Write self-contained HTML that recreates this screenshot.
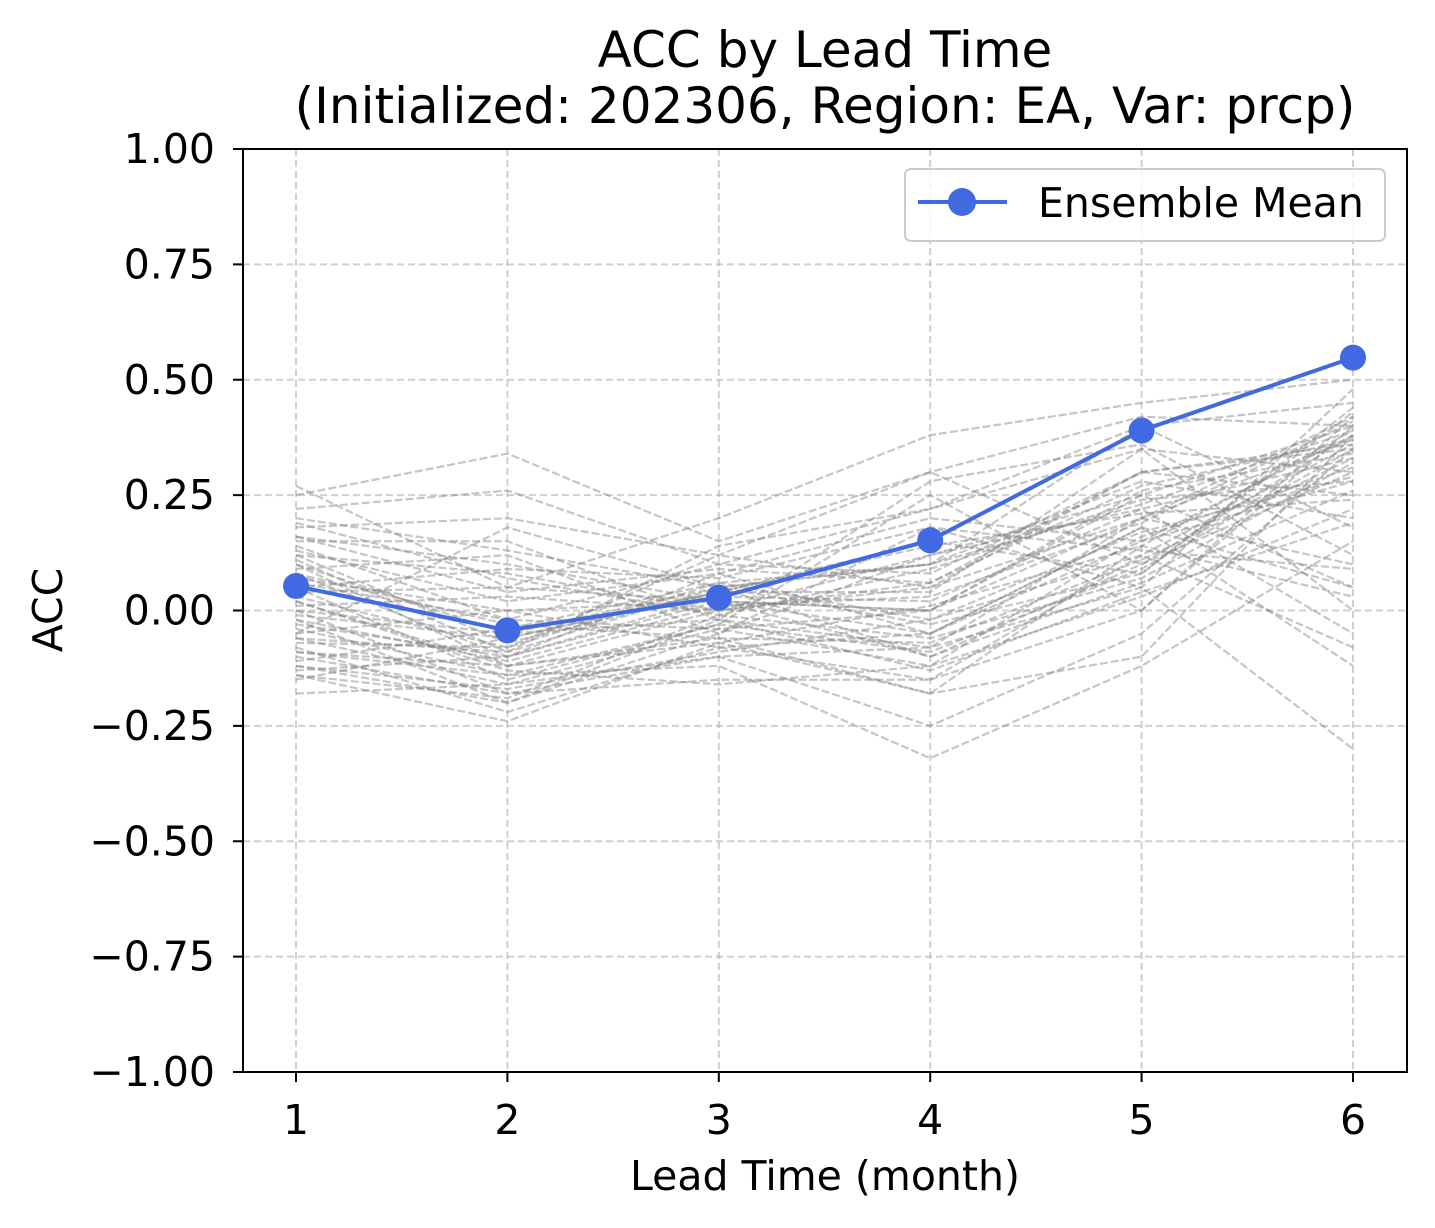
<!DOCTYPE html>
<html><head><meta charset="utf-8"><style>
html,body{margin:0;padding:0;background:#fff}
svg{display:block;font-family:"DejaVu Sans","Liberation Sans",sans-serif}
</style></head><body>
<svg id="chart" width="1435" height="1228" viewBox="0 0 1435 1228">
<text x="825" y="67" font-size="50" text-anchor="middle">ACC by Lead Time</text>
<text x="825" y="123" font-size="50" text-anchor="middle">(Initialized: 202306, Region: EA, Var: prcp)</text>
<g id="grid"></g>
<g id="members"></g>
<g id="mean"></g>
<rect x="243" y="149" width="1164" height="923" fill="none" stroke="#000" stroke-width="2"/>
<g id="ticks"></g>
<text x="825" y="1190" font-size="41" text-anchor="middle">Lead Time (month)</text>
<text transform="translate(62,610) rotate(-90)" font-size="41" text-anchor="middle">ACC</text>
<g>
<rect x="905" y="169" width="480" height="72" rx="6" fill="#fff" fill-opacity="0.8" stroke="#ccc" stroke-width="2"/>
<line x1="918" y1="202" x2="1007" y2="202" stroke="#4169e1" stroke-width="4"/>
<circle cx="962" cy="202" r="14" fill="#4169e1"/>
<text x="1038" y="217" font-size="41">Ensemble Mean</text>
</g>
</svg>
<script>
const leads=[1,2,3,4,5,6];
const yTicks=[-1,-0.75,-0.5,-0.25,0,0.25,0.5,0.75,1];
const yTickLabels=["\u22121.00","\u22120.75","\u22120.50","\u22120.25","0.00","0.25","0.50","0.75","1.00"];
const meanValues=[0.053,-0.043,0.028,0.152,0.39,0.548];
const members=[
[0.27,0.05,0.20,0.38,0.45,0.50],
[0.25,0.34,0.15,0.30,0.42,0.40],
[0.22,0.26,0.10,0.22,0.35,0.30],
[0.20,0.13,0.05,0.10,0.40,0.45],
[0.18,0.20,0.12,0.05,0.30,0.35],
[0.16,0.10,0.02,0.00,0.20,0.42],
[0.15,0.15,-0.02,0.28,0.36,0.12],
[0.13,0.02,0.08,-0.05,0.15,0.38],
[0.12,0.08,0.00,0.12,0.25,0.05],
[0.10,-0.05,0.05,-0.10,0.10,0.30],
[0.09,0.12,-0.05,0.18,0.05,0.48],
[0.08,-0.10,0.03,0.02,0.22,-0.05],
[0.07,0.00,-0.08,-0.15,0.12,0.36],
[0.06,-0.02,0.10,0.08,0.30,0.25],
[0.05,-0.15,-0.03,0.25,0.00,0.40],
[0.04,0.05,0.02,-0.05,0.18,-0.12],
[0.03,-0.08,0.06,0.10,0.28,0.20],
[0.02,-0.12,-0.06,-0.18,-0.10,0.38],
[0.01,0.03,0.00,0.05,0.20,0.10],
[0.00,-0.18,-0.10,-0.25,-0.05,0.35],
[-0.01,-0.06,0.04,0.15,0.08,0.44],
[-0.02,-0.20,-0.02,-0.08,0.05,-0.30],
[-0.03,-0.10,0.08,0.20,0.15,0.28],
[-0.04,-0.14,-0.12,-0.32,-0.12,0.15],
[-0.05,0.00,0.02,0.00,0.25,0.40],
[-0.06,-0.16,-0.04,-0.12,0.03,0.22],
[-0.07,-0.08,0.12,0.30,0.10,0.38],
[-0.08,-0.22,-0.08,-0.05,0.18,0.05],
[-0.09,-0.12,0.00,0.06,0.30,0.36],
[-0.10,-0.18,-0.15,-0.15,0.00,0.42],
[-0.11,-0.04,0.06,-0.02,0.12,-0.08],
[-0.12,-0.20,-0.05,0.12,0.22,0.33],
[-0.13,-0.10,0.02,-0.10,0.06,0.26],
[-0.14,-0.24,-0.07,-0.18,0.14,0.39],
[-0.15,-0.06,0.04,0.04,0.35,0.00],
[-0.18,-0.16,-0.10,-0.08,0.20,0.37],
[0.11,-0.09,0.14,0.22,0.40,0.18],
[0.14,-0.02,-0.04,0.00,0.26,0.34],
[-0.05,0.18,0.05,-0.03,0.08,0.43],
[0.02,-0.13,-0.16,-0.12,0.16,0.31],
[0.19,0.07,-0.01,0.09,0.24,0.28],
[0.08,-0.03,-0.06,-0.07,0.11,0.33],
[-0.02,-0.11,0.01,0.03,0.19,0.41],
[0.12,-0.07,0.04,0.14,0.21,0.24],
[-0.09,-0.14,-0.03,-0.09,0.09,0.35],
[0.05,0.09,0.07,0.18,0.13,0.09],
[-0.12,-0.17,-0.09,-0.02,0.17,0.29],
[0.16,0.04,0.09,0.06,0.27,0.37],
[0.00,-0.05,-0.02,-0.13,0.04,0.19],
[-0.06,-0.09,0.05,0.10,0.23,0.39],
[0.10,-0.12,-0.07,0.01,0.14,0.03],
[-0.14,-0.19,-0.01,-0.06,0.07,0.32]
];
const NS="http://www.w3.org/2000/svg";
const X0=243,X1=1407,Y0=149,Y1=1072;
function xs(v){return 296+(v-1)*(1353-296)/5;}
function ys(v){return Y1-(v+1)*(Y1-Y0)/2;}
function mk(tag,attrs,parent){const e=document.createElementNS(NS,tag);for(const k in attrs)e.setAttribute(k,attrs[k]);parent.appendChild(e);return e;}
const grid=document.getElementById('grid'),ticks=document.getElementById('ticks');
leads.forEach(l=>{
 const g=mk('line',{x1:xs(l),x2:xs(l),y1:Y0,y2:Y1,stroke:'#b0b0b0','stroke-opacity':0.6,'stroke-width':2,'stroke-dasharray':'7,4'},grid);
 
 
 const t=mk('line',{x1:xs(l),x2:xs(l),y1:Y1,y2:Y1+10,stroke:'#000','stroke-width':2},ticks);
 
 
 const tx=mk('text',{x:xs(l),y:Y1+62,'font-size':41,'text-anchor':'middle'},ticks);tx.textContent=l;
 
 
});
yTicks.forEach((v,i)=>{
 const g=mk('line',{x1:X0,x2:X1,y1:ys(v),y2:ys(v),stroke:'#b0b0b0','stroke-opacity':0.6,'stroke-width':2,'stroke-dasharray':'7,4'},grid);
 
 
 const t=mk('line',{x1:X0-10,x2:X0,y1:ys(v),y2:ys(v),stroke:'#000','stroke-width':2},ticks);
 
 
 const tx=mk('text',{x:X0-28,y:ys(v)+14,'font-size':41,'text-anchor':'end'},ticks);tx.textContent=yTickLabels[i];
 
 
});
const mg=document.getElementById('members');
members.forEach(m=>{
 const p=mk('polyline',{points:m.map((v,i)=>xs(leads[i])+','+ys(v)).join(' '),fill:'none',stroke:'#808080','stroke-opacity':0.45,'stroke-width':2.2,'stroke-dasharray':'8,3'},mg);
 
 
});
const meg=document.getElementById('mean');
const ml=mk('polyline',{points:meanValues.map((v,i)=>xs(leads[i])+','+ys(v)).join(' '),fill:'none',stroke:'#4169e1','stroke-width':4},meg);


meanValues.forEach((v,i)=>{
 const c=mk('circle',{cx:xs(leads[i]),cy:ys(v),r:13,fill:'#4169e1'},meg);
 
 
});
</script>
</body></html>
